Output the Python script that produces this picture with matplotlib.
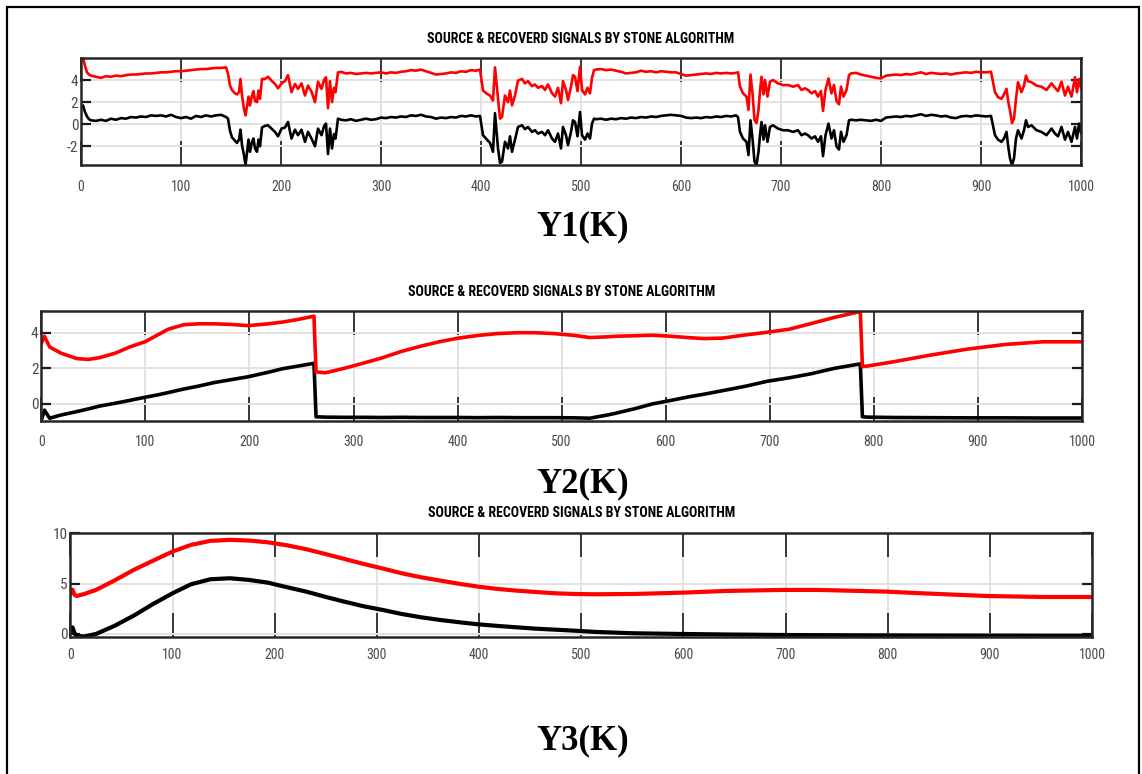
import matplotlib
matplotlib.use("Agg")
import matplotlib.pyplot as plt
from matplotlib import font_manager
from matplotlib.patches import Rectangle

# ---- Y1(K): sample index, source (black) and recovered (red) ----
k_y1 = [0, 2, 4, 6, 8, 10, 15, 20, 25, 30, 35, 40, 45, 50, 55, 60, 65, 70, 75, 80,
        85, 90, 95, 100, 105, 110, 115, 120, 125, 130, 135, 140, 145,
        147, 149, 151, 154, 156, 158, 159.5, 161, 163, 164.5, 166, 167.5, 169, 171,
        172.5, 174, 176, 177.5, 179, 181, 184, 187, 190.5, 194, 197, 200.5, 204, 207,
        210.5, 214, 217, 220.5, 224, 227, 230.5, 234, 237, 240.5, 243, 245, 247, 249,
        251, 253, 254.5, 257,
        260, 265, 270, 275, 280, 285, 290, 295, 300, 305, 310, 315, 320, 325, 330,
        335, 340, 345, 350, 355, 360, 365, 370, 375, 380, 385, 390, 395, 399,
        402, 406, 409, 412, 414, 417, 419, 421, 424, 427, 429, 431, 434, 437, 441,
        444, 447, 451, 454, 457, 461, 464, 467, 471, 474, 477, 480, 482, 485, 487,
        490, 492, 494, 496.5, 499, 501, 504, 506.5, 509, 511, 513,
        515, 520, 525, 530, 535, 540, 545, 550, 555, 560, 565, 570, 575, 580, 585,
        590, 595, 600, 605, 610, 615, 620, 625, 630, 635, 640, 645, 650, 655,
        657, 659, 662, 665.5, 667.5, 669.5, 671.5, 673.5, 675.5, 677.5, 679, 680.5,
        682.5, 684, 686.5, 689, 692, 697, 702, 707, 712, 717, 720.5, 724, 727, 730.5,
        734, 737, 740, 742, 744.5, 747.5, 750.5, 753, 755.5, 758, 760, 762.5, 765.5, 768,
        770, 775, 780, 785, 790, 795, 800, 805, 810, 815, 820, 825, 830, 835, 840,
        845, 850, 855, 860, 865, 870, 875, 880, 885, 890, 895, 900, 905, 910,
        914, 917, 920.5, 923, 925.5, 927.5, 929, 931, 933, 935, 937, 940.5, 943, 945,
        947, 950.5, 955.5, 960.5, 965.5, 970.5, 974, 977, 980.5, 984, 987, 990.5, 994,
        996, 998, 1000]
y1_source = [1.5, 1.7, 1.1, 0.7, 0.45, 0.35, 0.3, 0.4, 0.3, 0.5, 0.4, 0.55, 0.5, 0.65, 0.6,
             0.7, 0.65, 0.8, 0.75, 0.8, 0.7, 0.85, 0.65, 0.55, 0.65, 0.5, 0.75, 0.65, 0.8,
             0.7, 0.8, 0.85, 0.65,
             0.5, -0.6, -1.2, -1.5, -1.7, -1.4, -0.5, -1.9, -2.8, -3.7, -2.6, -1.4, -2.5,
             -1.6, -1.3, -2.2, -2.5, -1.4, -2.0, -0.3, -0.15, -0.1, -0.4, -0.7, -1.1, -0.4,
             -0.3, 0.2, -1.3, -0.5, -1.0, -0.5, -1.6, -0.7, -1.3, -2.0, -0.4, -1.0, -0.2,
             0.05, -2.7, -0.4, -2.2, -0.9, -1.3, 0.5,
             0.4, 0.35, 0.45, 0.3, 0.4, 0.5, 0.4, 0.45, 0.6, 0.55, 0.65, 0.6, 0.7, 0.65,
             0.8, 0.75, 0.85, 0.7, 0.65, 0.5, 0.6, 0.55, 0.65, 0.6, 0.75, 0.7, 0.8, 0.7, 0.75,
             -1.0, -1.4, -1.7, -2.5, 1.0, -2.2, -3.5, -3.4, -1.6, -2.2, -1.1, -2.5, -1.4,
             -0.25, -0.1, -0.45, -0.25, -0.7, -0.55, -0.85, -0.7, -1.0, -0.55, -1.3, -1.6,
             -0.85, -2.2, -0.25, -1.0, -1.9, -0.7, 0.35, 0.2, -1.1, 1.1, -1.0, -1.4, -0.85,
             -1.3, 0.05, 0.5,
             0.45, 0.5, 0.4, 0.5, 0.45, 0.55, 0.5, 0.6, 0.55, 0.65, 0.6, 0.7, 0.65, 0.75,
             0.8, 0.85, 0.8, 0.75, 0.6, 0.55, 0.6, 0.55, 0.65, 0.6, 0.7, 0.65, 0.75, 0.7, 0.8,
             0.65, -0.7, -1.3, -1.6, -2.8, 0.35, -1.3, -3.4, -3.7, -2.5, -1.0, 0.2, -1.4,
             -0.1, -1.6, -0.25, -0.1, -0.4, -0.55, -0.55, -0.7, -0.55, -1.0, -0.85, -1.0,
             -1.3, -1.1, -1.6, -1.1, -2.9, -1.0, 0.05, -1.3, -0.55, -2.0, -2.3, -0.7, -1.6,
             -1.0, 0.35,
             0.4, 0.35, 0.4, 0.35, 0.3, 0.4, 0.3, 0.6, 0.65, 0.7, 0.65, 0.75, 0.7, 0.8,
             0.9, 0.75, 0.85, 0.8, 0.7, 0.75, 0.6, 0.55, 0.7, 0.75, 0.7, 0.8, 0.75, 0.7, 0.75,
             -1.0, -1.4, -1.6, -1.3, -0.7, -2.2, -3.1, -3.7, -3.1, -1.3, -0.55, -1.3, -0.55,
             0.35, -0.25, -0.1, -0.55, -0.7, -1.0, -0.4, -0.85, -1.1, -0.25, -1.4, -0.7,
             -1.6, -0.25, -1.3, 0.05, -0.8]
y1_recovered = [5.9, 6.0, 5.3, 4.7, 4.5, 4.4, 4.3, 4.2, 4.35, 4.3, 4.4, 4.35, 4.45, 4.5, 4.5,
                4.55, 4.6, 4.6, 4.65, 4.7, 4.7, 4.75, 4.8, 4.8, 4.85, 4.9, 4.95, 5.0, 5.0,
                5.05, 5.1, 5.1, 5.15,
                4.6, 3.5, 3.1, 2.8, 2.7, 2.9, 4.1, 2.6, 1.4, 0.8, 1.6, 2.5, 1.7, 2.6, 3.0,
                2.1, 2.0, 3.05, 2.3, 4.1, 4.1, 4.3, 3.95, 3.65, 3.25, 3.7, 3.9, 4.45, 2.9,
                3.65, 3.2, 3.7, 2.6, 3.5, 2.95, 2.0, 3.85, 3.2, 4.0, 4.25, 1.45, 3.9, 2.0,
                3.3, 2.9, 4.7,
                4.75, 4.6, 4.65, 4.55, 4.6, 4.65, 4.6, 4.65, 4.7, 4.6, 4.7, 4.65, 4.75, 4.8,
                4.9, 4.85, 4.95, 4.8, 4.65, 4.5, 4.55, 4.6, 4.7, 4.65, 4.8, 4.75, 4.9, 4.85, 4.95,
                3.05, 2.75, 2.6, 2.15, 5.15, 2.3, 0.5, 0.65, 2.6, 2.0, 3.05, 1.7, 2.6, 3.95,
                4.1, 3.7, 3.9, 3.45, 3.6, 3.3, 3.45, 3.1, 3.6, 2.8, 2.5, 3.3, 1.9, 3.9, 3.1,
                2.2, 3.4, 4.45, 4.3, 3.0, 5.2, 3.1, 2.7, 3.3, 2.8, 4.2, 4.9,
                4.95, 5.0, 4.9, 4.95, 4.85, 4.75, 4.6, 4.65, 4.7, 4.85, 4.75, 4.8, 4.7, 4.8,
                4.75, 4.7, 4.7, 4.55, 4.4, 4.45, 4.5, 4.55, 4.6, 4.55, 4.65, 4.6, 4.65, 4.6, 4.65,
                4.7, 3.4, 2.8, 2.5, 1.3, 4.5, 2.8, 0.4, 0.1, 1.3, 3.0, 4.3, 2.7, 4.0, 2.5,
                3.85, 4.0, 3.7, 3.55, 3.55, 3.4, 3.55, 3.1, 3.25, 3.1, 2.8, 3.0, 2.5, 3.0,
                1.2, 3.1, 4.15, 2.8, 3.55, 2.1, 1.8, 3.4, 2.5, 3.1, 4.45,
                4.6, 4.65, 4.5, 4.4, 4.3, 4.2, 4.15, 4.4, 4.45, 4.5, 4.45, 4.55, 4.5, 4.6,
                4.7, 4.55, 4.65, 4.6, 4.55, 4.6, 4.5, 4.6, 4.65, 4.7, 4.65, 4.75, 4.7, 4.7, 4.75,
                2.9, 2.45, 2.3, 2.7, 3.2, 1.9, 1.25, 0.1, 0.5, 2.3, 3.8, 2.9, 3.5, 4.4, 3.9,
                3.8, 3.5, 3.4, 3.1, 3.7, 3.3, 3.0, 3.85, 2.6, 3.4, 2.5, 4.25, 2.9, 4.1, 3.3]

# ---- Y2(K) ----
k_y2 = [0, 3, 8, 19, 34, 45, 56, 71, 85, 100, 111, 122, 137, 151, 166, 181, 199, 218,
        232, 247, 262, 264, 273, 291, 310, 328, 346, 365, 383, 401, 420, 438, 457, 475,
        493, 512, 527, 544, 552, 570, 587, 605, 623, 637, 655, 677, 698, 719, 740, 762,
        787, 789, 794, 819, 855, 890, 926, 962, 1000]
y2_source = [-0.9, -0.35, -0.8, -0.62, -0.43, -0.28, -0.12, 0.04, 0.2, 0.38, 0.5, 0.64,
             0.84, 1.0, 1.2, 1.35, 1.53, 1.78, 1.98, 2.13, 2.28, -0.72, -0.74, -0.75,
             -0.75, -0.76, -0.75, -0.76, -0.76, -0.76, -0.77, -0.76, -0.77, -0.77, -0.77,
             -0.78, -0.8, -0.62, -0.52, -0.27, 0.0, 0.2, 0.41, 0.55, 0.75, 1.0, 1.28, 1.47,
             1.7, 2.0, 2.25, -0.72, -0.74, -0.76, -0.77, -0.78, -0.78, -0.79, -0.79]
y2_recovered = [3.4, 3.8, 3.2, 2.85, 2.55, 2.5, 2.6, 2.85, 3.2, 3.5, 3.85, 4.2, 4.45, 4.5,
                4.5, 4.47, 4.4, 4.5, 4.6, 4.75, 4.93, 1.8, 1.75, 2.0, 2.3, 2.6, 2.95, 3.25,
                3.5, 3.7, 3.85, 3.95, 4.0, 4.0, 3.95, 3.85, 3.73, 3.77, 3.8, 3.83, 3.86, 3.8,
                3.72, 3.67, 3.7, 3.88, 4.03, 4.2, 4.52, 4.86, 5.19, 2.1, 2.13, 2.37, 2.75,
                3.08, 3.34, 3.49, 3.49]

# ---- Y3(K) ----
k_y3 = [0, 2, 4, 6, 13, 25, 43, 62, 81, 100, 118, 137, 156, 175, 193, 212, 231, 249,
        268, 287, 306, 324, 343, 362, 381, 399, 418, 437, 455, 474, 493, 515, 551, 599,
        642, 697, 733, 799, 842, 897, 951, 1000]
y3_source = [0.3, 0.66, 0.1, -0.17, -0.26, 0.0, 0.8, 1.82, 2.98, 4.04, 4.93, 5.43, 5.53,
             5.36, 5.1, 4.64, 4.2, 3.7, 3.21, 2.75, 2.38, 1.99, 1.66, 1.39, 1.16, 0.96,
             0.8, 0.66, 0.53, 0.43, 0.33, 0.2, 0.07, 0.0, -0.05, -0.1, -0.12, -0.14,
             -0.15, -0.16, -0.17, -0.17]
y3_recovered = [4.0, 4.4, 3.9, 3.77, 3.95, 4.37, 5.3, 6.36, 7.28, 8.18, 8.84, 9.24, 9.34,
                9.27, 9.1, 8.8, 8.41, 7.95, 7.45, 6.95, 6.49, 6.03, 5.63, 5.3, 4.97, 4.7,
                4.47, 4.3, 4.17, 4.04, 3.97, 3.94, 3.97, 4.1, 4.27, 4.37, 4.37, 4.2, 4.0,
                3.77, 3.67, 3.67]

TITLE = "SOURCE & RECOVERD SIGNALS BY STONE ALGORITHM"
W, H = 1142, 774

# pick a narrow sans face for ticks and titles
fonts = font_manager.fontManager.ttflist
names = {f.name for f in fonts}
NARROW, STRETCH = "DejaVu Sans", "condensed"
for cand in ["Liberation Sans Narrow", "Roboto Condensed", "Open Sans Condensed"]:
    if cand in names:
        NARROW, STRETCH = cand, "normal"
        break
SERIF = "Liberation Serif"
plt.rcParams["font.family"] = [NARROW, "DejaVu Sans"]
plt.rcParams["font.stretch"] = STRETCH
plt.rcParams["axes.unicode_minus"] = False


def px_box(left, top, right, bottom):
    # pixel box -> figure fraction [l, b, w, h]
    return [left / W, 1 - bottom / H, (right - left) / W, (bottom - top) / H]


def style_axes(ax, ylim, yticks, xpad):
    ax.set_xlim(0, 1000)
    ax.set_ylim(*ylim)
    ax.set_xticks(range(0, 1001, 100))
    ax.set_yticks(yticks)
    ax.grid(True, color="#e2e2e2", lw=1.4)
    ax.set_axisbelow(True)
    ax.tick_params(axis="x", direction="in", length=17, width=1.2, color="#1a1a1a",
                   top=True, bottom=True, pad=xpad, labelsize=10, labelcolor="#4a4a4a")
    ax.tick_params(axis="y", direction="in", length=7, width=1.6, color="#1a1a1a",
                   left=True, right=True, pad=2, labelsize=11, labelcolor="#4a4a4a")
    for sp in ax.spines.values():
        sp.set_linewidth(1.8)
        sp.set_color("#262626")
    ax.set_title(TITLE, fontsize=10, fontweight="bold", pad=11, fontstretch=STRETCH)


fig = plt.figure(figsize=(W / 100, H / 100), dpi=100)

ax1 = fig.add_axes(px_box(81, 58, 1081, 165))
ax1.plot(k_y1, y1_source, color="black", lw=1.9)
ax1.plot(k_y1, y1_recovered, color="red", lw=1.9)
style_axes(ax1, (-3.7, 6.0), [-2, 0, 2, 4], 11)

ax2 = fig.add_axes(px_box(41.3, 311, 1082, 420.7))
ax2.plot(k_y2, y2_source, color="black", lw=2.6)
ax2.plot(k_y2, y2_recovered, color="red", lw=2.6)
style_axes(ax2, (-0.94, 5.22), [0, 2, 4], 10)

ax3 = fig.add_axes(px_box(70.4, 532.7, 1092, 636.7))
ax3.plot(k_y3, y3_source, color="black", lw=3.0)
ax3.plot(k_y3, y3_recovered, color="red", lw=3.0)
style_axes(ax3, (-0.27, 10.05), [0, 5, 10], 8)

# panel captions
for label, base in [("Y1(K)", 235), ("Y2(K)", 492), ("Y3(K)", 749)]:
    fig.text(582.5 / W, 1 - base / H, label, ha="center", va="baseline",
             family=SERIF, fontweight="bold", fontsize=25, fontstretch="normal")

# outer frame, open at the bottom edge of the image
fig.patches.append(Rectangle((7 / W, -0.05), (1139 - 7) / W, 1.05 - 7 / H,
                             transform=fig.transFigure, fill=False,
                             edgecolor="black", lw=1.6))

fig.savefig("out.png", dpi=100)
